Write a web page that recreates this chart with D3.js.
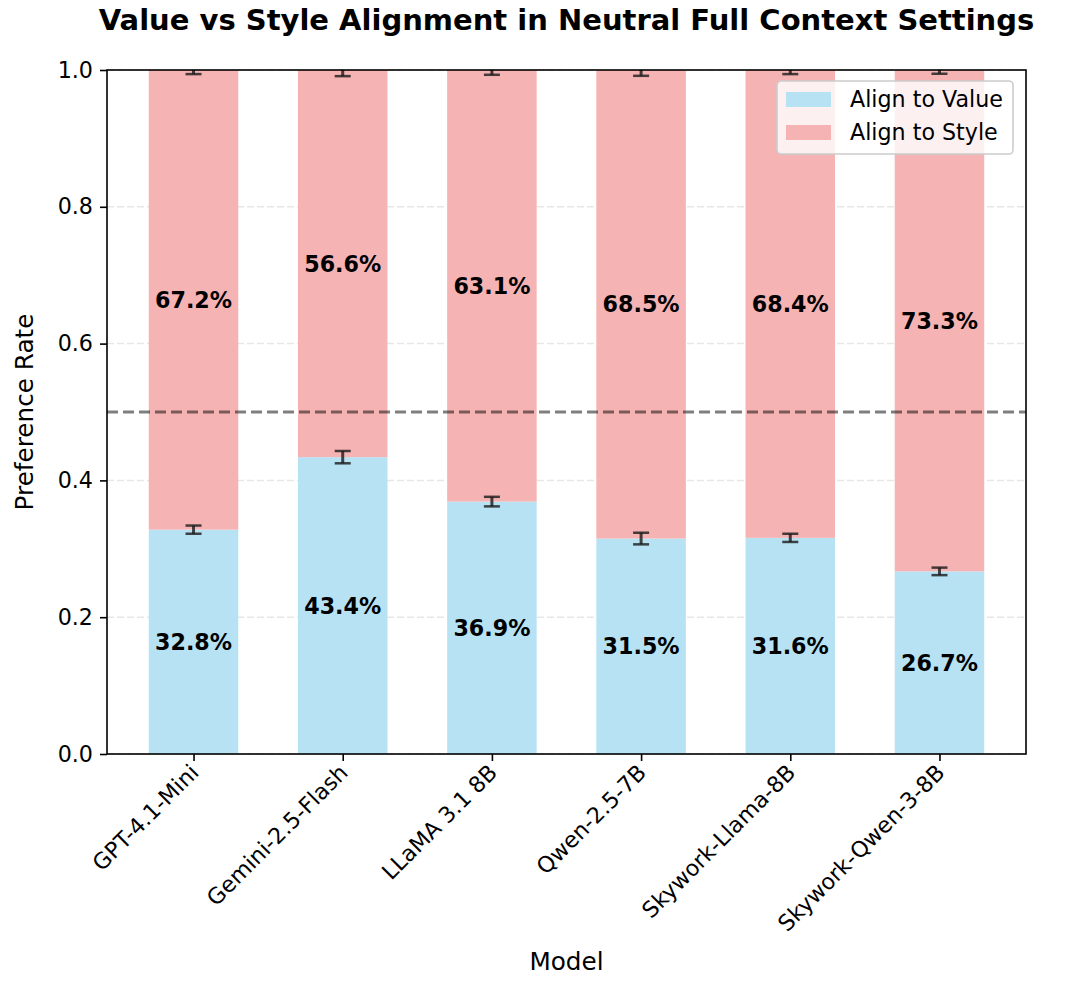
<!DOCTYPE html>
<html>
<head>
<meta charset="utf-8">
<script src="https://cdn.jsdelivr.net/npm/d3@7.9.0/dist/d3.min.js"></script>
<style>
  body { margin: 0; background: #fff; }
  svg { font-family: "DejaVu Sans", sans-serif; }
</style>
</head>
<body>
<svg id="chart" width="1076" height="984"></svg>
<script>
// data
const models = ['GPT-4.1-Mini', 'Gemini-2.5-Flash', 'LLaMA 3.1 8B', 'Qwen-2.5-7B', 'Skywork-Llama-8B', 'Skywork-Qwen-3-8B'];
const alignValue = [0.328, 0.434, 0.369, 0.315, 0.316, 0.267];
const alignStyle = [0.672, 0.566, 0.631, 0.685, 0.684, 0.733];
const errors = [0.006, 0.009, 0.007, 0.0085, 0.006, 0.0055];
const yTicks = [0.0, 0.2, 0.4, 0.6, 0.8, 1.0];

const svg = d3.select('#chart');
const m = { left: 107, right: 1026, top: 70, bottom: 754 };
const barW = 0.6;
const fs = 22.2;

const x = d3.scaleLinear().domain([-0.58, models.length - 1 + 0.58]).range([m.left, m.right]);
const y = d3.scaleLinear().domain([0, 1]).range([m.bottom, m.top]);
const bw = x(barW) - x(0);

const blue = 'rgb(183,226,243)';
const pink = 'rgb(246,179,179)';

svg.append('defs').append('clipPath').attr('id', 'plot')
  .append('rect').attr('x', m.left).attr('y', m.top)
  .attr('width', m.right - m.left).attr('height', m.bottom - m.top);

// grid
svg.append('g').selectAll('line').data(yTicks).join('line')
  .attr('x1', m.left).attr('x2', m.right)
  .attr('y1', d => y(d)).attr('y2', d => y(d))
  .attr('stroke', '#b0b0b0').attr('stroke-opacity', 0.3)
  .attr('stroke-width', 1.5).attr('stroke-dasharray', '7,3');

const plot = svg.append('g').attr('clip-path', 'url(#plot)');

// stacked bars
plot.selectAll('rect.val').data(alignValue).join('rect')
  .attr('class', 'val')
  .attr('x', (d, i) => x(i) - bw / 2).attr('width', bw)
  .attr('y', d => y(d)).attr('height', d => y(0) - y(d))
  .attr('fill', blue);

plot.selectAll('rect.sty').data(alignStyle).join('rect')
  .attr('class', 'sty')
  .attr('x', (d, i) => x(i) - bw / 2).attr('width', bw)
  .attr('y', (d, i) => y(alignValue[i] + d)).attr('height', (d, i) => y(alignValue[i]) - y(alignValue[i] + d))
  .attr('fill', pink);

// reference line at 0.5
plot.append('line')
  .attr('x1', m.left).attr('x2', m.right)
  .attr('y1', y(0.5)).attr('y2', y(0.5))
  .attr('stroke', '#000').attr('stroke-opacity', 0.5)
  .attr('stroke-width', 3).attr('stroke-dasharray', '11,5');

// error bars on both stack tops
function errBar(g, cx, cy, e) {
  const col = '#1a1a1a';
  g.append('line').attr('x1', cx).attr('x2', cx)
    .attr('y1', y(cy - e)).attr('y2', y(cy + e))
    .attr('stroke', col).attr('stroke-width', 3).attr('stroke-opacity', 0.8);
  [cy - e, cy + e].forEach(v => {
    g.append('line').attr('x1', cx - 8).attr('x2', cx + 8)
      .attr('y1', y(v)).attr('y2', y(v))
      .attr('stroke', col).attr('stroke-width', 2.5).attr('stroke-opacity', 0.8);
  });
}
models.forEach((mdl, i) => {
  errBar(plot, x(i), alignValue[i], errors[i]);
  errBar(plot, x(i), alignValue[i] + alignStyle[i], errors[i]);
});

// percentage labels
const fmt = v => (v * 100).toFixed(1) + '%';
svg.append('g').selectAll('text').data(alignValue).join('text')
  .attr('x', (d, i) => x(i)).attr('y', d => y(d / 2))
  .attr('dy', '0.36em').attr('text-anchor', 'middle')
  .attr('font-size', fs).attr('font-weight', 'bold')
  .text(d => fmt(d));
svg.append('g').selectAll('text').data(alignStyle).join('text')
  .attr('x', (d, i) => x(i)).attr('y', (d, i) => y(alignValue[i] + d / 2))
  .attr('dy', '0.36em').attr('text-anchor', 'middle')
  .attr('font-size', fs).attr('font-weight', 'bold')
  .text(d => fmt(d));

// axes
const yAxis = svg.append('g').attr('transform', `translate(${m.left},0)`)
  .call(d3.axisLeft(y).tickValues(yTicks).tickFormat(d3.format('.1f')).tickSize(7).tickPadding(7));
const xAxis = svg.append('g').attr('transform', `translate(0,${m.bottom})`)
  .call(d3.axisBottom(x).tickValues(d3.range(models.length)).tickFormat(i => models[i]).tickSize(7));
[yAxis, xAxis].forEach(a => {
  a.select('.domain').remove();
  a.selectAll('line').attr('stroke', '#000').attr('stroke-width', 1.6);
  a.selectAll('text').attr('font-size', fs).attr('fill', '#000').attr('font-family', '"DejaVu Sans", sans-serif');
});
xAxis.selectAll('text')
  .attr('text-anchor', 'end')
  .attr('y', 0).attr('dy', 0)
  .attr('transform', 'translate(6,20) rotate(-45)');

// frame
svg.append('rect').attr('x', m.left).attr('y', m.top)
  .attr('width', m.right - m.left).attr('height', m.bottom - m.top)
  .attr('fill', 'none').attr('stroke', '#000').attr('stroke-width', 1.6);

// legend
const lg = svg.append('g').attr('transform', 'translate(777,81)');
lg.append('rect').attr('width', 236).attr('height', 73).attr('rx', 4)
  .attr('fill', '#fff').attr('fill-opacity', 0.8).attr('stroke', '#ccc').attr('stroke-width', 1.6);
[['Align to Value', blue], ['Align to Style', pink]].forEach(([lab, c], i) => {
  lg.append('rect').attr('x', 9).attr('y', 11 + i * 33).attr('width', 45).attr('height', 15).attr('fill', c);
  lg.append('text').attr('x', 73).attr('y', 18.5 + i * 33).attr('dy', '0.36em')
    .attr('font-size', fs).text(lab);
});

// titles
svg.append('text').attr('x', (m.left + m.right) / 2).attr('y', 30)
  .attr('text-anchor', 'middle').attr('font-size', 29).attr('font-weight', 'bold')
  .text('Value vs Style Alignment in Neutral Full Context Settings');
svg.append('text').attr('x', (m.left + m.right) / 2).attr('y', 970)
  .attr('text-anchor', 'middle').attr('font-size', 24.7)
  .text('Model');
svg.append('text').attr('transform', `translate(33,${(m.top + m.bottom) / 2}) rotate(-90)`)
  .attr('text-anchor', 'middle').attr('font-size', 24.7)
  .text('Preference Rate');
</script>
</body>
</html>
